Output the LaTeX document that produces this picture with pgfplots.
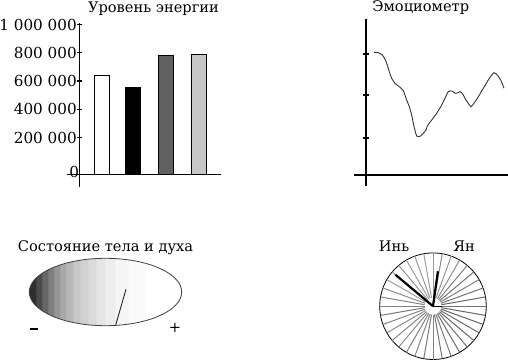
\documentclass[border=0pt]{standalone}
\usepackage{pgfplots}
\pgfplotsset{compat=1.18}
\usepgfplotslibrary{polar}
\usepackage{fontspec}
\setmainfont{DejaVu Serif}
\newcommand{\fs}{\fontsize{14.6bp}{17bp}\selectfont}
\newcommand{\ft}{\fontsize{15.2bp}{17bp}\selectfont}
\pgfplotsset{every axis title shift=0pt}
\pgfdeclarehorizontalshading{gauge}{100bp}{color(0bp)=(black!82); color(27.29bp)=(black!82);
 color(27.3bp)=(black!71); color(29.25bp)=(black!71);
 color(29.26bp)=(black!60); color(31.21bp)=(black!60);
 color(31.22bp)=(black!50); color(33.17bp)=(black!50);
 color(33.18bp)=(black!41); color(35.13bp)=(black!41);
 color(35.14bp)=(black!34); color(37.09bp)=(black!34);
 color(37.1bp)=(black!28); color(39.38bp)=(black!28);
 color(39.39bp)=(black!22); color(41.67bp)=(black!22);
 color(41.68bp)=(black!18); color(44.28bp)=(black!18);
 color(44.29bp)=(black!14); color(46.9bp)=(black!14);
 color(46.91bp)=(black!10); color(49.84bp)=(black!10);
 color(49.85bp)=(black!7); color(53.1bp)=(black!7);
 color(53.11bp)=(black!4); color(57.35bp)=(black!4);
 color(57.36bp)=(black!2); color(62.91bp)=(black!2);
 color(62.92bp)=(white); color(100bp)=(white)}
\begin{document}
\begin{tikzpicture}
\path[use as bounding box] (0,0) rectangle (508bp,-361bp);
% Panel 1: energy level
\begin{axis}[at={(66.7bp,-186.7bp)}, anchor=south west, scale only axis,
 width=154.3bp, height=163.4bp,
 xmin=-12.8, xmax=141.5, ymin=-84960, ymax=1071900,
 axis lines=middle, axis line style={-, black, line width=1.1bp},
 xtick=\empty, scaled y ticks=false,
 ytick={263400,463400,663400,863400,1063400},
 yticklabels={200 000,400 000,600 000,800 000,1 000 000},
 extra y ticks={19100}, extra y tick labels={0},
 extra y tick style={major tick length=0pt},
 tick align=center, major tick length=4.5bp,
 tick style={black, line width=1.1bp},
 tick label style={font=\ft},
 yticklabel style={xshift=3bp},
 y filter/.expression={y+63400},
 title={Уровень энергии},
 title style={font=\fs, at={(0.5625,1)}, anchor=base, yshift=11.3bp},
 clip=false]
\addplot[ybar, bar shift=0pt, bar width=15.3, fill=white, draw=black, line width=1bp] coordinates {(22.3,637000)};
\addplot[ybar, bar shift=0pt, bar width=15.3, fill=black, draw=black, line width=1bp] coordinates {(53.3,555000)};
\addplot[ybar, bar shift=0pt, bar width=15.3, fill=black!62, draw=black, line width=1bp] coordinates {(86.5,784000)};
\addplot[ybar, bar shift=0pt, bar width=15.3, fill=black!22, draw=black, line width=1bp] coordinates {(119.7,791000)};
\end{axis}
% Panel 2: emotiometer
\begin{axis}[at={(354bp,-186bp)}, anchor=south west, scale only axis,
 width=153.5bp, height=166.7bp,
 xmin=-12, xmax=141.5, ymin=-11, ymax=155.7,
 axis lines=middle, axis line style={-, black, line width=1.1bp},
 xtick=\empty, ytick={37,80,121}, yticklabels={,,},
 tick align=center, major tick length=5.7bp,
 tick style={black, line width=1.1bp},
 title={Эмоциометр},
 title style={font=\fs, at={(0.435,1)}, anchor=base, yshift=7.6bp},
 clip=false]
\addplot[smooth, black!80, line width=0.9bp] coordinates {
(8,122.7) (12.3,122.3) (16.3,120) (19,115.7) (21.3,110) (23.3,103.3) (25.7,96.7) (29,91.7) (33.3,88.3) (37.3,84.3) (40,76.7) (43.3,68.3) (45.7,60) (47.3,51.7) (49.3,43.3) (50.7,39) (52.3,38.3) (54.7,39) (57.3,41.7) (60,45) (61.3,49) (65.7,55) (70.7,61.7) (75.7,70) (79,76.7) (82.3,83.3) (85.7,84) (89,81.7) (91.3,82) (94,83.3) (96.7,81) (99,76.7) (102.3,71.7) (105,68.3) (108.3,72.3) (112.3,78.3) (117.3,86.7) (122.3,95) (125.7,100) (128,102.3) (131.3,100) (134.7,95) (138,86.7)};
\end{axis}
% Panel 3: body and spirit gauge
\begin{axis}[at={(29.3bp,-325.7bp)}, anchor=south west, scale only axis,
 width=152.4bp, height=67.4bp,
 xmin=-76.2, xmax=76.2, ymin=-33.7, ymax=33.7,
 hide axis, clip=false,
 title={Состояние тела и духа},
 title style={font=\fs, at={(0.5,1)}, anchor=base, yshift=7bp}]
\shade[shading=gauge] (axis cs:0,0) ellipse [x radius=76.2, y radius=33.7];
\draw[black!75, line width=0.8bp] (axis cs:0,0) ellipse [x radius=76.2, y radius=33.7];
\addplot[black!85, line width=0.9bp] coordinates {(10.2,-33) (20.5,2.7)};
\node[font=\fs, inner sep=0pt] at (axis cs:-71.5,-37) {\rule{8bp}{1.3bp}};
\node[font=\fs] at (axis cs:69.5,-35.5) {+};
\end{axis}
% Panel 4: yin-yang wheel
\begin{polaraxis}[at={(433bp,-306.2bp)}, anchor=center, scale only axis,
 width=106.6bp, height=106.6bp, ymin=0, ymax=53.3,
 xtick=\empty, ytick=\empty,
 axis line style={black, line width=0.8bp}, clip=false]
\addplot[black!55, line width=1bp] coordinates {(0,8.5) (0,53.3)};
\addplot[black!60, line width=1bp] coordinates {(10,8.5) (10,53.3)};
\addplot[black!55, line width=1bp] coordinates {(20,8.5) (20,53.3)};
\addplot[black!50, line width=1bp] coordinates {(30,8.5) (30,53.3)};
\addplot[black!55, line width=1bp] coordinates {(40,8.5) (40,53.3)};
\addplot[black!50, line width=1bp] coordinates {(50,8.5) (50,53.3)};
\addplot[black!45, line width=1bp] coordinates {(60,8.5) (60,53.3)};
\addplot[black!40, line width=1bp] coordinates {(70,8.5) (70,53.3)};
\addplot[black!45, line width=1bp] coordinates {(80,8.5) (80,53.3)};
\addplot[black!40, line width=1bp] coordinates {(90,8.5) (90,53.3)};
\addplot[black!38, line width=1bp] coordinates {(100,8.5) (100,53.3)};
\addplot[black!40, line width=1bp] coordinates {(110,8.5) (110,53.3)};
\addplot[black!38, line width=1bp] coordinates {(120,8.5) (120,53.3)};
\addplot[black!42, line width=1bp] coordinates {(130,8.5) (130,53.3)};
\addplot[black!40, line width=1bp] coordinates {(140,8.5) (140,53.3)};
\addplot[black!38, line width=1bp] coordinates {(150,8.5) (150,53.3)};
\addplot[black!45, line width=1bp] coordinates {(160,8.5) (160,53.3)};
\addplot[black!48, line width=1bp] coordinates {(170,8.5) (170,53.3)};
\addplot[black!50, line width=1bp] coordinates {(180,8.5) (180,53.3)};
\addplot[black!52, line width=1bp] coordinates {(190,8.5) (190,53.3)};
\addplot[black!48, line width=1bp] coordinates {(200,8.5) (200,53.3)};
\addplot[black!45, line width=1bp] coordinates {(210,8.5) (210,53.3)};
\addplot[black!48, line width=1bp] coordinates {(220,8.5) (220,53.3)};
\addplot[black!45, line width=1bp] coordinates {(230,8.5) (230,53.3)};
\addplot[black!50, line width=1bp] coordinates {(240,8.5) (240,53.3)};
\addplot[black!48, line width=1bp] coordinates {(250,8.5) (250,53.3)};
\addplot[black!52, line width=1bp] coordinates {(260,8.5) (260,53.3)};
\addplot[black!50, line width=1bp] coordinates {(270,8.5) (270,53.3)};
\addplot[black!55, line width=1bp] coordinates {(280,8.5) (280,53.3)};
\addplot[black!52, line width=1bp] coordinates {(290,8.5) (290,53.3)};
\addplot[black!58, line width=1bp] coordinates {(300,8.5) (300,53.3)};
\addplot[black!55, line width=1bp] coordinates {(310,8.5) (310,53.3)};
\addplot[black!60, line width=1bp] coordinates {(320,8.5) (320,53.3)};
\addplot[black!58, line width=1bp] coordinates {(330,8.5) (330,53.3)};
\addplot[black!62, line width=1bp] coordinates {(340,8.5) (340,53.3)};
\addplot[black!60, line width=1bp] coordinates {(350,8.5) (350,53.3)};
\addplot[black, line width=2.2bp] coordinates {(140,0) (140,49)};
\addplot[black, line width=2.2bp] coordinates {(82,0) (82,35.3)};
\end{polaraxis}
\node[font=\fs, anchor=base] at (394bp,-251bp) {Инь};
\node[font=\fs, anchor=base] at (464.2bp,-251bp) {Ян};
\end{tikzpicture}
\end{document}
